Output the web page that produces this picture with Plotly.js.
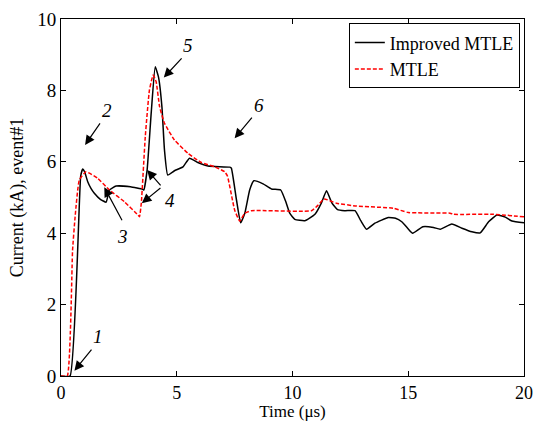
<!DOCTYPE html>
<html>
<head>
<meta charset="utf-8">
<script src="https://cdn.plot.ly/plotly-3.0.1.min.js"></script>
<style>html,body{margin:0;padding:0;background:#fff;}#chart{width:536px;height:421px;}</style>
</head>
<body>
<div id="chart"></div>
<script>
// Improved MTLE (black solid)
const improvedTime = [0, 0.39, 0.85, 0.94, 1.02, 1.15, 1.30, 1.44, 1.70, 1.95, 2.09, 2.38, 3.00, 3.53, 3.58, 3.72, 3.90, 4.07, 4.21, 4.36, 4.47, 4.61, 4.90, 5.27, 5.55, 5.91, 6.35, 7.29, 7.36, 7.58, 7.76, 7.94, 8.15, 8.33, 8.73, 9.09, 9.49, 9.70, 9.88, 10.10, 10.53, 10.97, 11.25, 11.47, 11.70, 11.93, 12.26, 12.70, 12.95, 13.20, 13.56, 14.14, 14.45, 14.72, 15.00, 15.19, 15.63, 16.09, 16.38, 16.88, 17.32, 17.75, 18.11, 18.47, 18.83, 19.19, 19.48, 20.0];
const improvedCurrent = [0, 0, 5.60, 5.80, 5.72, 5.45, 5.25, 5.12, 4.95, 4.87, 5.21, 5.32, 5.30, 5.23, 5.21, 5.77, 7.40, 8.66, 8.38, 7.54, 6.33, 5.63, 5.75, 5.86, 6.10, 5.98, 5.88, 5.85, 5.82, 4.93, 4.29, 4.56, 5.21, 5.47, 5.38, 5.24, 5.21, 4.90, 4.56, 4.39, 4.35, 4.53, 4.85, 5.19, 4.85, 4.67, 4.63, 4.63, 4.35, 4.11, 4.28, 4.44, 4.42, 4.32, 4.12, 4.00, 4.18, 4.16, 4.11, 4.26, 4.14, 4.04, 4.01, 4.32, 4.51, 4.45, 4.34, 4.29];

// MTLE (red dashed)
const mtleTime = [0, 0.27, 0.50, 0.61, 0.79, 1.08, 1.58, 2.09, 2.74, 3.32, 3.39, 3.47, 3.64, 3.82, 3.98, 4.11, 4.26, 4.47, 4.90, 5.48, 6.06, 6.64, 7.07, 7.19, 7.50, 7.72, 7.94, 8.23, 10.82, 11.11, 11.36, 11.90, 12.77, 14.35, 15.00, 16.81, 16.96, 18.68, 20.0];
const mtleCurrent = [0, 0, 3.53, 4.46, 5.49, 5.72, 5.54, 5.21, 4.88, 4.51, 4.46, 4.85, 6.70, 8.01, 8.43, 8.24, 7.54, 7.08, 6.61, 6.24, 5.98, 5.86, 5.72, 5.60, 4.65, 4.34, 4.56, 4.63, 4.63, 4.79, 4.96, 4.84, 4.76, 4.70, 4.58, 4.56, 4.53, 4.53, 4.46];

// Numbered annotations: label position, arrow tails and heads
const labelText = ['1', '2', '3', '4', '5', '6'];
const labelX = [1.58, 1.99, 2.67, 4.69, 5.48, 8.54];
const labelY = [1.10, 7.45, 3.92, 4.93, 9.27, 7.59];
const arrowTailX = [1.37, 1.73, 2.67, 4.36, 4.36, 5.27, 8.30];
const arrowTailY = [0.78, 7.12, 4.32, 5.30, 5.30, 8.94, 7.28];
const arrowHeadX = [0.58, 1.04, 1.87, 3.72, 3.49, 4.44, 7.50];
const arrowHeadY = [0.15, 6.47, 5.29, 5.77, 4.84, 8.36, 6.66];

const xTicks = [0, 5, 10, 15, 20];
const yTicks = [0, 2, 4, 6, 8, 10];

const serif = "'Liberation Serif', 'Times New Roman', Times, serif";

const traces = [
  {x: improvedTime, y: improvedCurrent, type: 'scatter', mode: 'lines', name: 'Improved MTLE',
   line: {color: '#000000', width: 1.5, shape: 'spline', smoothing: 0.4}},
  {x: mtleTime, y: mtleCurrent, type: 'scatter', mode: 'lines', name: 'MTLE',
   line: {color: '#ff0000', width: 1.5, dash: '4px,2px', shape: 'spline', smoothing: 0.4}}
];

const annotations = [];
for (let i = 0; i < labelText.length; i++) {
  annotations.push({x: labelX[i], y: labelY[i], xref: 'x', yref: 'y', text: '<i>' + labelText[i] + '</i>',
    showarrow: false, font: {family: serif, size: 19, color: '#000'}});
}
for (let i = 0; i < arrowTailX.length; i++) {
  annotations.push({x: arrowHeadX[i], y: arrowHeadY[i], xref: 'x', yref: 'y',
    ax: arrowTailX[i], ay: arrowTailY[i], axref: 'x', ayref: 'y', text: '',
    showarrow: true, arrowhead: 2, arrowsize: 1.6, arrowwidth: 1.2, arrowcolor: '#000', standoff: 0});
}

const layout = {
  width: 536, height: 421,
  margin: {l: 61, r: 12, t: 19, b: 45},
  paper_bgcolor: '#fff', plot_bgcolor: '#fff',
  font: {family: serif, size: 17, color: '#000'},
  showlegend: true,
  legend: {x: 0.991, y: 0.988, xanchor: 'right', yanchor: 'top', bgcolor: '#fff',
    bordercolor: '#000', borderwidth: 1, font: {family: serif, size: 18, color: '#000'},
    tracegroupgap: 0},
  xaxis: {range: [0, 20], tickvals: xTicks, ticktext: xTicks.map(String), ticks: 'inside', ticklen: 5,
    tickcolor: '#000', showline: true, linecolor: '#000', linewidth: 1, mirror: 'ticks',
    showgrid: false, zeroline: false, tickfont: {family: serif, size: 18}, ticklabelstandoff: 0,
    title: {text: 'Time (\u03bcs)', font: {family: serif, size: 17}, standoff: 5}},
  yaxis: {range: [0, 10], tickvals: yTicks, ticktext: yTicks.map(String), ticks: 'inside', ticklen: 5,
    tickcolor: '#000', showline: true, linecolor: '#000', linewidth: 1, mirror: 'ticks',
    showgrid: false, zeroline: false, tickfont: {family: serif, size: 19},
    title: {text: 'Current (kA), event#1', font: {family: serif, size: 18}, standoff: 8}},
  annotations: annotations
};

Plotly.newPlot('chart', traces, layout, {displayModeBar: false, staticPlot: true});
</script>
</body>
</html>
